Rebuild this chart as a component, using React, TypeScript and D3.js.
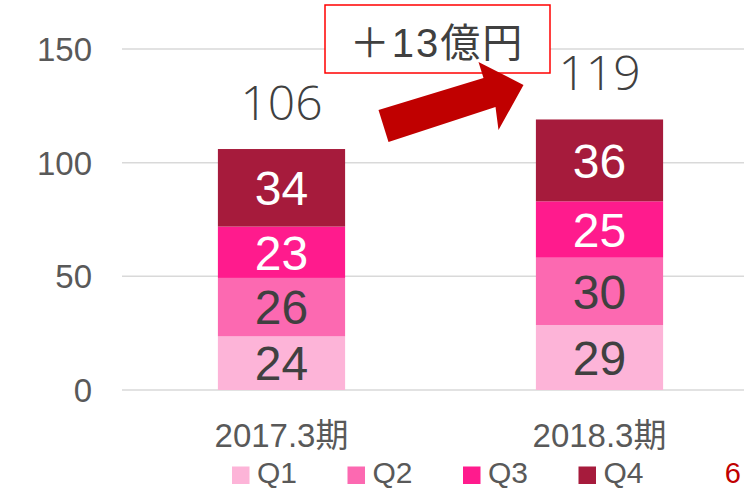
import React from "react";
import * as d3 from "d3";

const W = 744;
const H = 489;

const categories = ["2017.3期", "2018.3期"];
const seriesNames = ["Q1", "Q2", "Q3", "Q4"];
const colors = ["#FDB4D8", "#FC69B1", "#FF1B8D", "#A61B3C"];
const labelColors = ["#404040", "#404040", "#ffffff", "#ffffff"];
// quarterly values per period (Q1..Q4)
const values2017 = [23.6, 25.7, 22.6, 34.1];
const values2018 = [28.6, 29.6, 24.8, 36.0];
const yTicks = [0, 50, 100, 150];
const annotation = "＋13億円";
const pageNumber = "6";

const font = "'Liberation Sans', Arial, 'Noto Sans CJK JP', sans-serif";
const thinFont = "'Open Sans', 'Liberation Sans', sans-serif";

export default function App() {
  const x = d3
    .scaleBand<string>()
    .domain(categories)
    .range([122.5, 758.5])
    .paddingInner(0.6)
    .paddingOuter(0.3);
  const y = d3.scaleLinear().domain([0, 150]).range([390, 49]);

  const table = categories.map((c, i) => {
    const vals = i === 0 ? values2017 : values2018;
    const row: any = { cat: c };
    seriesNames.forEach((s, j) => (row[s] = vals[j]));
    return row;
  });
  const stacked = d3.stack().keys(seriesNames)(table);
  const totals = table.map((r) => d3.sum(seriesNames, (s) => r[s]));

  const bw = x.bandwidth();
  const c1 = x(categories[0])! + bw / 2;
  const c2 = x(categories[1])! + bw / 2;

  // arrow annotation between the two bars
  const ax = (c1 + c2) / 2;
  const arrow = [
    [ax - 62, 110],
    [ax + 43, 78],
    [ax + 38, 62],
    [ax + 83, 85],
    [ax + 58, 130],
    [ax + 55, 107],
    [ax - 52, 142],
  ];

  return (
    <svg
      width={W}
      height={H}
      style={{ position: "absolute", left: 0, top: 0, background: "#fff" }}
    >
      {yTicks.map((t) => (
        <g key={t}>
          <line x1={122} x2={W} y1={y(t)} y2={y(t)} stroke="#D9D9D9" strokeWidth={1.5} />
          <text
            x={92}
            y={y(t)}
            dy="0.36em"
            textAnchor="end"
            fontFamily={font}
            fontSize={33}
            fill="#595959"
          >
            {t}
          </text>
        </g>
      ))}

      {stacked.map((layer, j) =>
        layer.map((d, i) => {
          const x0 = x(categories[i])!;
          const top = y(d[1]);
          const bot = y(d[0]);
          return (
            <g key={`${j}-${i}`}>
              <rect x={x0} y={top} width={bw} height={bot - top} fill={colors[j]} />
              <text
                x={x0 + bw / 2}
                y={(top + bot) / 2}
                dy="0.36em"
                textAnchor="middle"
                fontFamily={font}
                fontSize={48}
                fill={labelColors[j]}
              >
                {Math.round(d[1] - d[0])}
              </text>
            </g>
          );
        })
      )}

      {totals.map((t, i) => (
        <text
          key={i}
          x={x(categories[i])! + bw / 2}
          y={y(t) - 29}
          textAnchor="middle"
          fontFamily={thinFont}
          fontWeight={300}
          fontSize={48}
          fill="#404040"
        >
          {Math.round(t)}
        </text>
      ))}

      {categories.map((c) => (
        <text
          key={c}
          x={x(c)! + bw / 2}
          y={447}
          textAnchor="middle"
          fontFamily={font}
          fontSize={33}
          fill="#595959"
        >
          {c}
        </text>
      ))}

      <rect x={325} y={5} width={225} height={68} fill="#fff" stroke="#FF0000" strokeWidth={1.5} />
      <text
        x={437}
        y={57}
        textAnchor="middle"
        fontFamily={font}
        fontSize={40}
        letterSpacing={2}
        fill="#404040"
      >
        {annotation}
      </text>
      <polygon points={arrow.map((p) => p.join(",")).join(" ")} fill="#C00000" />

      {seriesNames.map((s, j) => (
        <g key={s} transform={`translate(${232 + j * 115.5},0)`}>
          <rect x={0} y={466.5} width={17.5} height={17.5} fill={colors[j]} />
          <text x={25} y={483} fontFamily={font} fontSize={30} fill="#595959">
            {s}
          </text>
        </g>
      ))}

      <text x={741} y={483} textAnchor="end" fontFamily={font} fontSize={29} fill="#C00000">
        {pageNumber}
      </text>
    </svg>
  );
}
